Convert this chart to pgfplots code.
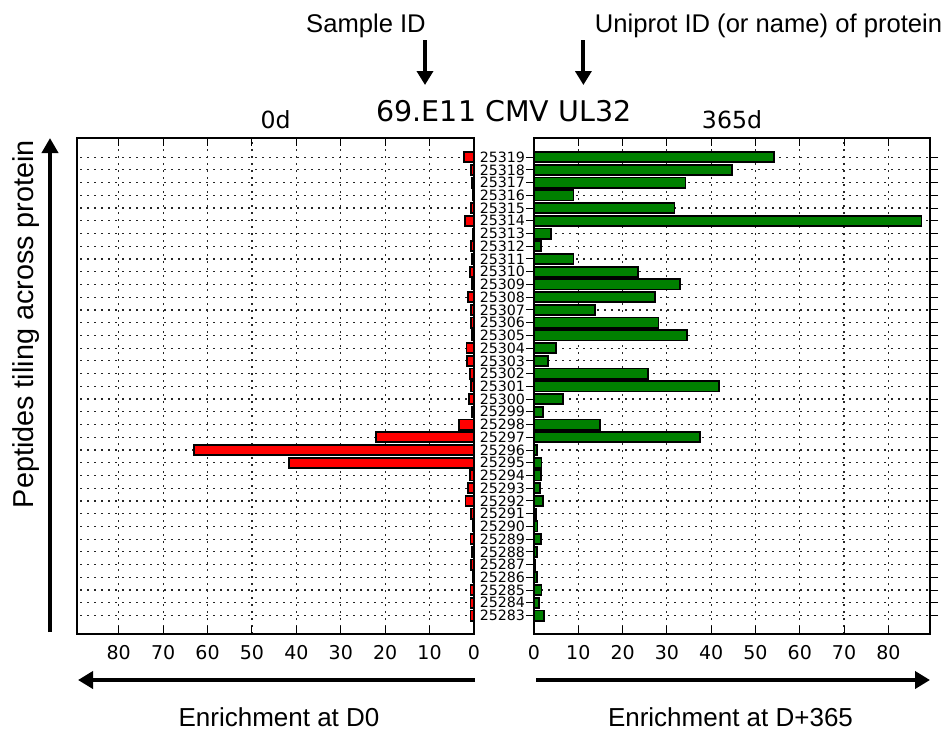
\documentclass[border=0pt]{standalone}
\usepackage{pgfplots}
\pgfplotsset{compat=1.18}
\usepackage{pgfplotstable}
\usepackage{fontspec}
\setmainfont{DejaVu Sans}
\newfontfamily\arial{Liberation Sans}
\usetikzlibrary{arrows.meta}

\pgfplotstableread{
idx id d0 d365
0 25283 0.8 2.3
1 25284 0.8 1.1
2 25285 0.8 1.7
3 25286 0.2 0.6
4 25287 0.6 0.3
5 25288 0.4 0.6
6 25289 0.8 1.5
7 25290 0.2 0.8
8 25291 0.6 0.5
9 25292 1.9 2.0
10 25293 1.4 1.4
11 25294 0.9 1.5
12 25295 41.6 1.7
13 25296 63.1 0.7
14 25297 22.0 37.5
15 25298 3.4 14.9
16 25299 0.5 2.0
17 25300 1.2 6.6
18 25301 0.6 41.8
19 25302 0.9 25.7
20 25303 1.6 3.1
21 25304 1.7 4.9
22 25305 0.5 34.6
23 25306 0.6 28.1
24 25307 0.6 13.8
25 25308 1.4 27.4
26 25309 0.4 33.0
27 25310 0.9 23.4
28 25311 0.5 8.9
29 25312 0.6 1.5
30 25313 0.2 3.8
31 25314 2.0 87.5
32 25315 0.6 31.7
33 25316 0.2 8.9
34 25317 0.5 34.2
35 25318 0.6 44.7
36 25319 2.3 54.2
}\data

\definecolor{mplgreen}{RGB}{0,128,0}

\begin{document}
\begin{tikzpicture}
\useasboundingbox (0,0) rectangle (474.5pt,-368pt);
\pgfplotsset{
  panel/.style={
    scale only axis, height=248pt,
    ymin=-1.45, ymax=37.5, xmin=0, xmax=89.4,
    xtick={0,10,...,80}, ytick={0,...,36},
    tick align=inside, major tick length=4pt,
    tick style={black, line width=0.5pt},
    grid=major,
    grid style={black!85, line width=0.6pt, dash pattern=on 1pt off 2.5pt},
    axis line style={line width=0.9pt},
    xticklabel style={font=\fontsize{9.5}{10}\selectfont, yshift=-2pt},
    /pgf/number format/assume math mode=true,
    xbar, bar width=0.8, bar shift=0pt,
  }
}
\begin{axis}[panel, at={(38.5pt,-69pt)}, anchor=north west, width=198.5pt,
  x dir=reverse, yticklabels={}, ytick style={draw=none}]
\addplot[fill=red, draw=black, line width=0.9pt] table[x=d0, y=idx]{\data};
\end{axis}
\begin{axis}[panel, at={(267pt,-69pt)}, anchor=north west, width=198pt,
  yticklabels={25283,25284,25285,25286,25287,25288,25289,25290,25291,25292,25293,25294,25295,25296,25297,25298,25299,25300,25301,25302,25303,25304,25305,25306,25307,25308,25309,25310,25311,25312,25313,25314,25315,25316,25317,25318,25319},
  yticklabel style={font=\fontsize{7.1}{7.1}\selectfont, inner ysep=0pt, xshift=3pt}]
\addplot[fill=mplgreen, draw=black, line width=0.9pt] table[x=d365, y=idx]{\data};
\end{axis}

% annotations
\node[anchor=base, font=\arial\fontsize{12.8}{14}\selectfont] at (183pt,-16pt) {Sample ID};
\node[anchor=base, font=\arial\fontsize{12.8}{14}\selectfont] at (384.25pt,-16pt) {Uniprot ID (or name) of protein};
\draw[line width=2pt, -{Triangle[width=8pt,length=7pt]}] (212.5pt,-20pt) -- (212.5pt,-42.5pt);
\draw[line width=2pt, -{Triangle[width=8pt,length=7pt]}] (291.7pt,-20pt) -- (291.7pt,-42.5pt);
\node[anchor=base, font=\fontsize{14.25}{16}\selectfont] at (252pt,-60.85pt) {69.E11 CMV UL32};
\node[anchor=base, font=\fontsize{11.8}{13}\selectfont] at (137.75pt,-64pt) {0d};
\node[anchor=base, font=\fontsize{11.8}{13}\selectfont] at (366pt,-64pt) {365d};
\node[anchor=base, rotate=90, font=\arial\fontsize{14.4}{16}\selectfont] at (16.5pt,-162pt) {Peptides tiling across protein};
\draw[line width=2pt, -{Triangle[width=8pt,length=7.5pt]}] (25pt,-316pt) -- (25pt,-69pt);
\draw[line width=2.3pt, -{Triangle[width=8.5pt,length=7.5pt]}] (237.5pt,-340pt) -- (39pt,-340pt);
\draw[line width=2.3pt, -{Triangle[width=8.5pt,length=7.5pt]}] (268pt,-340pt) -- (465pt,-340pt);
\node[anchor=base, font=\arial\fontsize{13}{15}\selectfont] at (139.5pt,-363.4pt) {Enrichment at D0};
\node[anchor=base, font=\arial\fontsize{13}{15}\selectfont] at (365.25pt,-363.4pt) {Enrichment at D+365};
\end{tikzpicture}
\end{document}
